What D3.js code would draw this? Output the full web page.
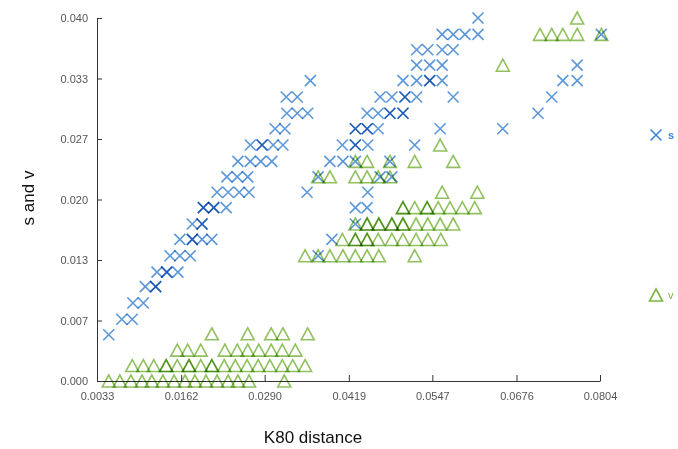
<!DOCTYPE html>
<html>
<head>
<meta charset="utf-8">
<script src="https://cdn.jsdelivr.net/npm/d3@7"></script>
<style>
  body { margin: 0; background: #fff; }
  svg { display: block; font-family: Arial, "Liberation Sans", sans-serif; }
</style>
</head>
<body>
<div id="chart"></div>
<script>
// tick values
var xTicks = [0.0033, 0.0162, 0.0290, 0.0419, 0.0547, 0.0676, 0.0804];
var yTicks = [0, 0.04 / 6, 0.08 / 6, 0.02, 0.16 / 6, 0.2 / 6, 0.04];

// s series: [K80 distance, s]
var sPoints = [
  [0.0051, 0.0051],
  [0.0071, 0.0068], [0.0087, 0.0068],
  [0.0088, 0.0086], [0.0104, 0.0086],
  [0.0107, 0.0104], [0.0123, 0.0104], [0.0123, 0.0104],
  [0.0125, 0.0120], [0.0140, 0.0120], [0.0140, 0.0120], [0.0157, 0.0120],
  [0.0145, 0.0138], [0.0160, 0.0138], [0.0176, 0.0138], [0.0372, 0.0138],
  [0.0160, 0.0156], [0.0179, 0.0156], [0.0179, 0.0156], [0.0194, 0.0156], [0.0209, 0.0156], [0.0393, 0.0156],
  [0.0179, 0.0173], [0.0194, 0.0173], [0.0194, 0.0173], [0.0429, 0.0173],
  [0.0196, 0.0191], [0.0196, 0.0191], [0.0212, 0.0191], [0.0212, 0.0191], [0.0231, 0.0191], [0.0429, 0.0191], [0.0447, 0.0191],
  [0.0217, 0.0208], [0.0234, 0.0208], [0.0251, 0.0208], [0.0266, 0.0208], [0.0355, 0.0208], [0.0448, 0.0208],
  [0.0232, 0.0225], [0.0248, 0.0225], [0.0264, 0.0225], [0.0372, 0.0225], [0.0467, 0.0225], [0.0485, 0.0225],
  [0.0249, 0.0242], [0.0268, 0.0242], [0.0284, 0.0242], [0.0301, 0.0242],
  [0.0390, 0.0242], [0.0410, 0.0242], [0.0429, 0.0242], [0.0482, 0.0242],
  [0.0268, 0.0260], [0.0286, 0.0260], [0.0286, 0.0260], [0.0303, 0.0260], [0.0318, 0.0260],
  [0.0409, 0.0260], [0.0429, 0.0260], [0.0429, 0.0260], [0.0448, 0.0260], [0.0520, 0.0260],
  [0.0306, 0.0278], [0.0321, 0.0278], [0.0429, 0.0278], [0.0429, 0.0278], [0.0447, 0.0278],
  [0.0447, 0.0278], [0.0464, 0.0278], [0.0559, 0.0278], [0.0655, 0.0278],
  [0.0324, 0.0295], [0.0340, 0.0295], [0.0356, 0.0295], [0.0447, 0.0295], [0.0464, 0.0295],
  [0.0482, 0.0295], [0.0482, 0.0295], [0.0502, 0.0295], [0.0502, 0.0295], [0.0709, 0.0295],
  [0.0323, 0.0313], [0.0340, 0.0313], [0.0467, 0.0313], [0.0485, 0.0313], [0.0505, 0.0313],
  [0.0505, 0.0313], [0.0523, 0.0313], [0.0579, 0.0313], [0.0730, 0.0313],
  [0.0360, 0.0331], [0.0502, 0.0331], [0.0523, 0.0331], [0.0543, 0.0331], [0.0543, 0.0331],
  [0.0562, 0.0331], [0.0747, 0.0331], [0.0769, 0.0331],
  [0.0523, 0.0348], [0.0543, 0.0348], [0.0562, 0.0348], [0.0769, 0.0348],
  [0.0523, 0.0365], [0.0540, 0.0365], [0.0562, 0.0365], [0.0579, 0.0365],
  [0.0562, 0.0382], [0.0579, 0.0382], [0.0597, 0.0382], [0.0617, 0.0382], [0.0806, 0.0382],
  [0.0617, 0.0400]
];

// v series: [K80 distance, v]
var vPoints = [
  [0.0051, 0], [0.0068, 0], [0.0085, 0], [0.0102, 0], [0.0117, 0], [0.0134, 0], [0.0151, 0],
  [0.0168, 0], [0.0183, 0], [0.0200, 0], [0.0217, 0], [0.0234, 0], [0.0249, 0], [0.0266, 0], [0.0320, 0],
  [0.0087, 0.0017], [0.0104, 0.0017], [0.0120, 0.0017], [0.0139, 0.0017], [0.0139, 0.0017],
  [0.0156, 0.0017], [0.0174, 0.0017], [0.0174, 0.0017], [0.0192, 0.0017], [0.0209, 0.0017],
  [0.0209, 0.0017], [0.0228, 0.0017], [0.0245, 0.0017], [0.0263, 0.0017], [0.0280, 0.0017],
  [0.0298, 0.0017], [0.0317, 0.0017], [0.0333, 0.0017], [0.0352, 0.0017],
  [0.0156, 0.0034], [0.0172, 0.0034], [0.0192, 0.0034], [0.0229, 0.0034], [0.0248, 0.0034],
  [0.0264, 0.0034], [0.0281, 0.0034], [0.0300, 0.0034], [0.0317, 0.0034], [0.0337, 0.0034],
  [0.0209, 0.0052], [0.0264, 0.0052], [0.0300, 0.0052], [0.0318, 0.0052], [0.0356, 0.0052],
  [0.0352, 0.0138], [0.0372, 0.0138], [0.0390, 0.0138], [0.0410, 0.0138], [0.0429, 0.0138],
  [0.0447, 0.0138], [0.0465, 0.0138], [0.0520, 0.0138],
  [0.0409, 0.0156], [0.0429, 0.0156], [0.0429, 0.0156], [0.0447, 0.0156], [0.0447, 0.0156],
  [0.0464, 0.0156], [0.0485, 0.0156], [0.0502, 0.0156], [0.0522, 0.0156], [0.0540, 0.0156], [0.0560, 0.0156],
  [0.0429, 0.0173], [0.0447, 0.0173], [0.0447, 0.0173], [0.0465, 0.0173], [0.0465, 0.0173],
  [0.0485, 0.0173], [0.0485, 0.0173], [0.0502, 0.0173], [0.0502, 0.0173], [0.0522, 0.0173],
  [0.0540, 0.0173], [0.0559, 0.0173], [0.0579, 0.0173],
  [0.0502, 0.0191], [0.0502, 0.0191], [0.0520, 0.0191], [0.0539, 0.0191], [0.0539, 0.0191],
  [0.0556, 0.0191], [0.0574, 0.0191], [0.0593, 0.0191], [0.0612, 0.0191],
  [0.0562, 0.0208], [0.0616, 0.0208],
  [0.0372, 0.0225], [0.0390, 0.0225], [0.0429, 0.0225], [0.0447, 0.0225], [0.0464, 0.0225], [0.0482, 0.0225],
  [0.0429, 0.0242], [0.0447, 0.0242], [0.0482, 0.0242], [0.0520, 0.0242], [0.0579, 0.0242],
  [0.0559, 0.0260],
  [0.0655, 0.0348],
  [0.0712, 0.0382], [0.0730, 0.0382], [0.0747, 0.0382], [0.0769, 0.0382], [0.0806, 0.0382],
  [0.0769, 0.0400]
];

var blue = "#3f85d0";
var green = "#7cb642";
var crossPath = "M-5.5,-5.5L5.5,5.5M-5.5,5.5L5.5,-5.5";
var triPath = "M0,-6L6.5,6L-6.5,6Z";

var w = 678, h = 449;

var svg = d3.select("#chart").append("svg")
    .attr("width", w)
    .attr("height", h);

svg.append("rect").attr("width", w).attr("height", h).attr("fill", "#fff");

var x = d3.scaleLinear().domain([0.0033, 0.0804]).range([97, 600]);
var y = d3.scaleLinear().domain([0, 0.04]).range([381, 18]);

// axes, ticks point inward
var xAxis = svg.append("g")
    .attr("transform", "translate(0," + y(0) + ")")
    .call(d3.axisBottom(x).tickValues(xTicks).tickSizeInner(-6).tickSizeOuter(0)
        .tickPadding(11).tickFormat(d3.format(".4f")));

var yAxis = svg.append("g")
    .attr("transform", "translate(" + x(0.0033) + ",0)")
    .call(d3.axisLeft(y).tickValues(yTicks).tickSizeInner(-5).tickSizeOuter(0)
        .tickPadding(9).tickFormat(d3.format(".3f")));

[xAxis, yAxis].forEach(function(g) {
    g.select(".domain").attr("stroke", "#333");
    g.selectAll(".tick line").attr("stroke", "#333");
    g.selectAll(".tick text").attr("fill", "#555").attr("font-size", "11px")
        .attr("font-family", "Arial, 'Liberation Sans', sans-serif");
});

// marks
var marks = svg.append("g");

marks.selectAll(".v")
    .data(vPoints)
    .enter()
    .append("path")
    .attr("class", "v")
    .attr("d", triPath)
    .attr("transform", function(d) { return "translate(" + x(d[0]) + "," + y(d[1]) + ")"; })
    .attr("fill", "none")
    .attr("stroke", green)
    .attr("stroke-width", 1.6)
    .attr("stroke-opacity", 0.85)
    .style("mix-blend-mode", "multiply");

marks.selectAll(".s")
    .data(sPoints)
    .enter()
    .append("path")
    .attr("class", "s")
    .attr("d", crossPath)
    .attr("transform", function(d) { return "translate(" + x(d[0]) + "," + y(d[1]) + ")"; })
    .attr("fill", "none")
    .attr("stroke", blue)
    .attr("stroke-width", 1.6)
    .attr("stroke-opacity", 0.85)
    .style("mix-blend-mode", "multiply");

// legend
var legend = [
    {name: "s", color: blue, path: crossPath, y: 135, weight: "bold"},
    {name: "v", color: green, path: triPath, y: 295, weight: "normal"}
];

var lg = svg.selectAll(".legend")
    .data(legend)
    .enter()
    .append("g")
    .attr("class", "legend")
    .attr("transform", function(d) { return "translate(656," + d.y + ")"; });

lg.append("path")
    .attr("d", function(d) { return d.path; })
    .attr("fill", "none")
    .attr("stroke", function(d) { return d.color; })
    .attr("stroke-width", 1.6);

lg.append("text")
    .attr("x", 12)
    .attr("y", 4)
    .attr("font-size", "11px")
    .attr("font-weight", function(d) { return d.weight; })
    .attr("fill", function(d) { return d.color; })
    .text(function(d) { return d.name; });

// axis titles
svg.append("text")
    .attr("x", 313)
    .attr("y", 443)
    .attr("text-anchor", "middle")
    .attr("font-size", "17px")
    .attr("fill", "#111")
    .text("K80 distance");

svg.append("text")
    .attr("transform", "translate(34,198) rotate(-90)")
    .attr("text-anchor", "middle")
    .attr("font-size", "17px")
    .attr("fill", "#111")
    .text("s and v");
</script>
</body>
</html>
